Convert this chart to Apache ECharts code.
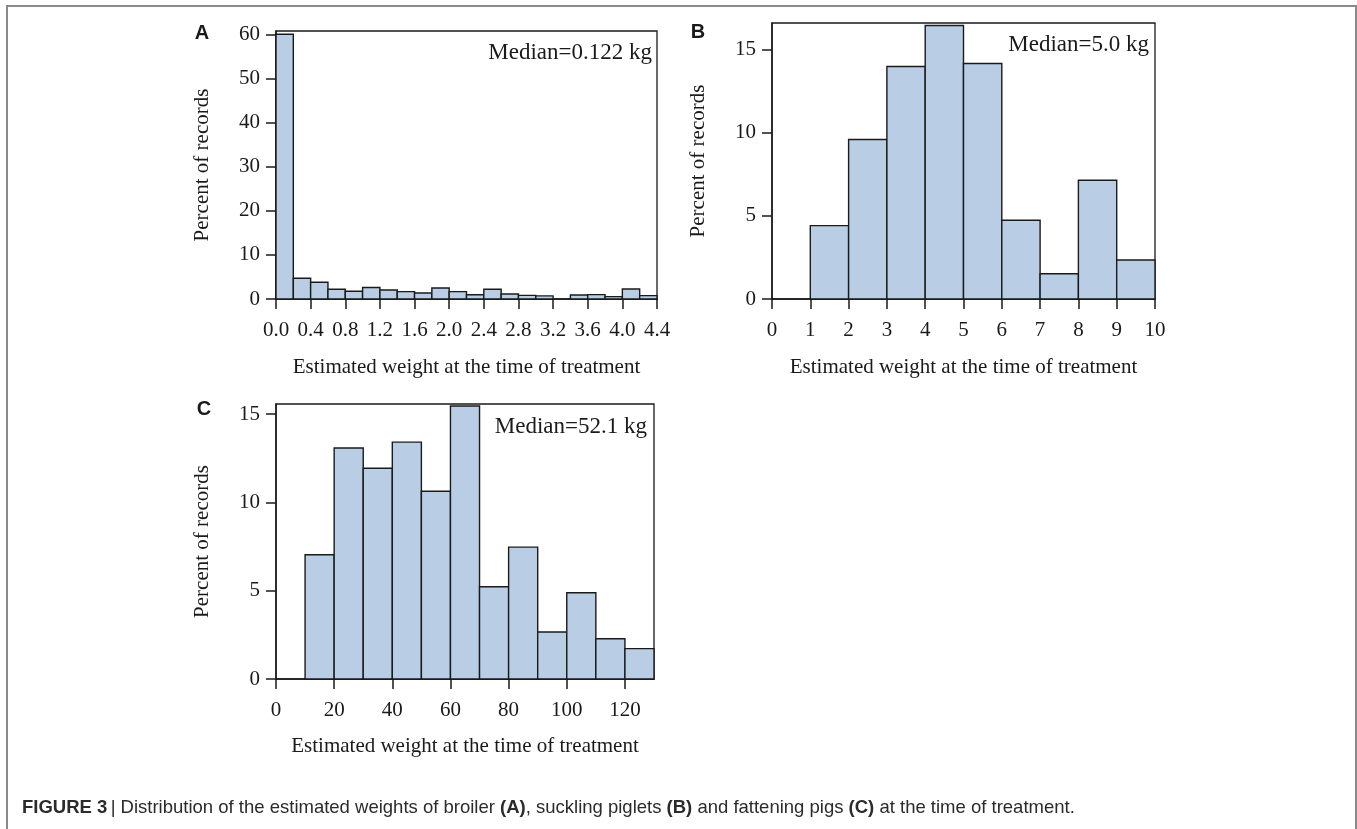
<!DOCTYPE html>
<html>
<head>
<meta charset="utf-8">
<script src="https://cdn.jsdelivr.net/npm/echarts@6/dist/echarts.min.js"></script>
<style>
html,body{margin:0;padding:0;background:#fff;}
#chart{width:1357px;height:829px;}
</style>
</head>
<body>
<div id="chart"></div>
<script>
// ---------- DATA ----------
// Panel A: broiler (bin edges in kg, percent of records)
var binsA = [0,0.2,0.4,0.6,0.8,1.0,1.2,1.4,1.6,1.8,2.0,2.2,2.4,2.6,2.8,3.0,3.2,3.4,3.6,3.8,4.0,4.2,4.4];
var valuesA = [60,4.7,3.8,2.2,1.75,2.6,2.05,1.67,1.36,2.5,1.67,0.98,2.2,1.14,0.83,0.7,0,0.9,1.0,0.53,2.27,0.76];
var ticksAx = [0,0.4,0.8,1.2,1.6,2.0,2.4,2.8,3.2,3.6,4.0,4.4];
var ticksAy = [0,10,20,30,40,50,60];

// Panel B: suckling piglets
var binsB = [0,1,2,3,4,5,6,7,8,9,10];
var valuesB = [0,4.41,9.58,13.97,16.43,14.15,4.73,1.52,7.13,2.34];
var ticksBx = [0,1,2,3,4,5,6,7,8,9,10];
var ticksBy = [0,5,10,15];

// Panel C: fattening pigs
var binsC = [0,10,20,30,40,50,60,70,80,90,100,110,120,130];
var valuesC = [0,7.04,13.09,11.94,13.42,10.64,15.47,5.23,7.47,2.66,4.89,2.28,1.72];
var ticksCx = [0,20,40,60,80,100,120];
var ticksCy = [0,5,10,15];

var medianA = 'Median=0.122 kg';
var medianB = 'Median=5.0 kg';
var medianC = 'Median=52.1 kg';
var xTitle = 'Estimated weight at the time of treatment';
var yTitle = 'Percent of records';

// ---------- BUILD ----------
function toRows(bins, vals){
  var rows = [];
  for (var i = 0; i < vals.length; i++) rows.push([bins[i], bins[i+1], vals[i]]);
  return rows;
}
var SERIF = "'Liberation Serif','Times New Roman',serif";
var INK = '#1a1a1a';
function renderItem(params, api){
  var x0 = api.value(0), x1 = api.value(1), y = api.value(2);
  if (!(y > 0)) return null;
  var p0 = api.coord([x0, y]);
  var p1 = api.coord([x1, 0]);
  return {
    type: 'rect',
    shape: {x: p0[0], y: p0[1], width: p1[0]-p0[0], height: p1[1]-p0[1]},
    style: {fill: '#b9cde5', stroke: INK, lineWidth: 1.4}
  };
}
function xAx(idx, max, ticks, fmt, gap){
  return {
    type: 'value', gridIndex: idx, min: 0, max: max,
    name: xTitle, nameLocation: 'middle', nameGap: gap,
    nameTextStyle: {fontFamily: SERIF, fontSize: 21, color: INK},
    axisLine: {show: true, lineStyle: {color: INK, width: 1.5}},
    axisTick: {show: true, inside: false, length: 10, lineStyle: {color: INK, width: 1.5}, customValues: ticks},
    axisLabel: {fontFamily: SERIF, fontSize: 21, color: INK, margin: 21, customValues: ticks,
      formatter: function(v){ return fmt ? v.toFixed(1) : String(v); }},
    splitLine: {show: false}
  };
}
function yAx(idx, max, ticks){
  return {
    type: 'value', gridIndex: idx, min: 0, max: max,
    name: yTitle, nameLocation: 'middle', nameGap: 63, nameRotate: 90,
    nameTextStyle: {fontFamily: SERIF, fontSize: 21, color: INK},
    axisLine: {show: true, lineStyle: {color: INK, width: 1.5}},
    axisTick: {show: true, inside: false, length: 10, lineStyle: {color: INK, width: 1.5}, customValues: ticks},
    axisLabel: {fontFamily: SERIF, fontSize: 21, color: INK, margin: 16, customValues: ticks},
    splitLine: {show: false}
  };
}
function panelLabel(t, x, y){
  return {type: 'text', x: x, y: y, style: {text: t, fontFamily: "'Liberation Sans',Arial,sans-serif", fontWeight: 'bold', fontSize: 20, fill: INK, align: 'center', verticalAlign: 'middle'}};
}
function medianText(t, x, y){
  return {type: 'text', x: x, y: y, style: {text: t, fontFamily: SERIF, fontSize: 23, fill: INK, align: 'right', verticalAlign: 'middle'}};
}

var chart = echarts.init(document.getElementById('chart'), null, {renderer: 'canvas'});
var option = {
  backgroundColor: '#fff',
  animation: false,
  grid: [
    {left: 276, top: 31, width: 381, height: 268, show: true, borderColor: INK, borderWidth: 1.3, containLabel: false},
    {left: 772, top: 23, width: 383, height: 276, show: true, borderColor: INK, borderWidth: 1.3, containLabel: false},
    {left: 276, top: 404, width: 378, height: 275, show: true, borderColor: INK, borderWidth: 1.3, containLabel: false}
  ],
  xAxis: [xAx(0, 4.4, ticksAx, true, 58), xAx(1, 10, ticksBx, false, 58), xAx(2, 130, ticksCx, false, 57)],
  yAxis: [yAx(0, 60.75, ticksAy), yAx(1, 16.58, ticksBy), yAx(2, 15.58, ticksCy)],
  series: [
    {type: 'custom', xAxisIndex: 0, yAxisIndex: 0, renderItem: renderItem, data: toRows(binsA, valuesA), encode: {x: [0,1], y: 2}},
    {type: 'custom', xAxisIndex: 1, yAxisIndex: 1, renderItem: renderItem, data: toRows(binsB, valuesB), encode: {x: [0,1], y: 2}},
    {type: 'custom', xAxisIndex: 2, yAxisIndex: 2, renderItem: renderItem, data: toRows(binsC, valuesC), encode: {x: [0,1], y: 2}}
  ],
  graphic: [
    {type: 'rect', shape: {x: 7, y: 6, width: 1349, height: 840}, style: {fill: null, stroke: '#8a8a8a', lineWidth: 2}, silent: true},
    panelLabel('A', 202, 33),
    panelLabel('B', 698, 32),
    panelLabel('C', 204, 409),
    medianText(medianA, 652, 53),
    medianText(medianB, 1149, 45),
    medianText(medianC, 647, 427),
    {type: 'text', x: 22, y: 808, style: {
      text: '{b|FIGURE 3} {n|| Distribution of the estimated weights of broiler }{b|(A)}{n|, suckling piglets }{b|(B)}{n| and fattening pigs }{b|(C)}{n| at the time of treatment.}',
      verticalAlign: 'middle',
      rich: {
        b: {fontFamily: "'Liberation Sans',Arial,sans-serif", fontWeight: 'bold', fontSize: 18.5, fill: '#2b2b2b'},
        n: {fontFamily: "'Liberation Sans',Arial,sans-serif", fontSize: 18.5, fill: '#2b2b2b'}
      }
    }}
  ]
};
chart.setOption(option);
</script>
</body>
</html>
